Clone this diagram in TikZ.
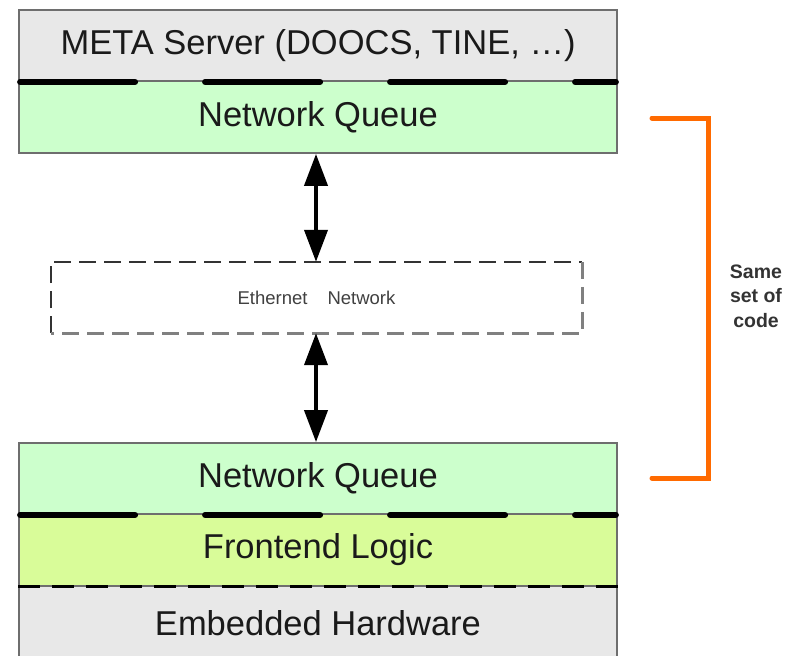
\documentclass[tikz,border=0pt]{standalone}
\usepackage{fontspec}
\setmainfont{Liberation Sans}
\usetikzlibrary{arrows.meta}

\definecolor{layergray}{HTML}{E8E8E8}
\definecolor{queuegreen}{HTML}{CCFFCC}
\definecolor{logicgreen}{HTML}{D9FC99}
\definecolor{bordergray}{HTML}{6E6E6E}
\definecolor{bracketorange}{HTML}{FF6A00}
\definecolor{inktext}{HTML}{1A1A1A}

\tikzset{
  layer/.style={draw=bordergray, line width=1.8pt, minimum width=598pt,
    inner sep=0pt, text=inktext,
    font=\fontsize{34.5}{40}\selectfont},
  apiline/.style={line width=6pt, line cap=round,
    dash pattern=on 115pt off 70pt, black},
  thinsep/.style={line width=3pt, dash pattern=on 22pt off 12pt, black},
  netbox/.style={minimum width=531pt, minimum height=71pt, inner sep=0pt,
    text=black!75, font=\fontsize{18.5}{22}\selectfont},
  netdarkedge/.style={line width=2pt, black!80, dash pattern=on 17pt off 8pt},
  netlightedge/.style={line width=2.6pt, black!50, dash pattern=on 17pt off 8pt},
  linkarrow/.style={line width=4pt,
    {Triangle[length=32pt,width=23pt]}-{Triangle[length=32pt,width=23pt]}},
  bracket/.style={line width=5pt, bracketorange, line cap=round, line join=miter},
  note/.style={align=center, text=black!80,
    font=\fontsize{19.5}{24.5}\selectfont\bfseries}
}

\begin{document}
\begin{tikzpicture}[x=1pt, y=-1pt]
  \useasboundingbox (0,0) rectangle (785,656);
  \fill[white] (0,0) rectangle (785,656);
  \clip (0,0) rectangle (785,656);

  % protocol stack, top side
  \node[layer, fill=layergray, minimum height=71pt] (meta) at (318,45.5)
    {META Server (DOOCS, TINE, …)};
  \node[layer, fill=queuegreen, minimum height=72pt] (nqtop) at (318,117)
    {Network Queue};

  % network in between
  \node[netbox] (eth) at (316.5,297.5) {Ethernet\hspace{20pt}Network};
  \draw[netdarkedge] (eth.south west) -- (eth.north west) -- (eth.north east);
  \draw[netlightedge] (eth.north east) -- (eth.south east) -- (eth.south west);

  % protocol stack, device side
  \node[layer, fill=queuegreen, minimum height=71pt] (nqbot) at (318,478.5)
    {Network Queue};
  \node[layer, fill=logicgreen, minimum height=72pt] (fe) at (318,550)
    {Frontend Logic};
  \node[layer, fill=layergray, minimum height=74pt] (hw) at (318,623)
    {Embedded Hardware};

  % layer boundaries
  \draw[apiline] ([xshift=2pt]meta.south west) -- ([xshift=-2pt]meta.south east);
  \draw[apiline] ([xshift=2pt]nqbot.south west) -- ([xshift=-2pt]nqbot.south east);
  \draw[thinsep] (fe.south west) -- (fe.south east);

  % links through the network
  \draw[linkarrow] ([xshift=-2pt]nqtop.south) -- ([xshift=-0.5pt]eth.north);
  \draw[linkarrow] ([xshift=-0.5pt]eth.south) -- ([xshift=-2pt]nqbot.north);

  % bracket around the shared queue code
  \coordinate (btop) at (652,118);
  \coordinate (bbot) at (652,478);
  \draw[bracket] (btop) -- (708,118) -- (708,478) -- (bbot);
  \node[note] (same) at (756,296) {Same\\set of\\code};
\end{tikzpicture}
\end{document}
